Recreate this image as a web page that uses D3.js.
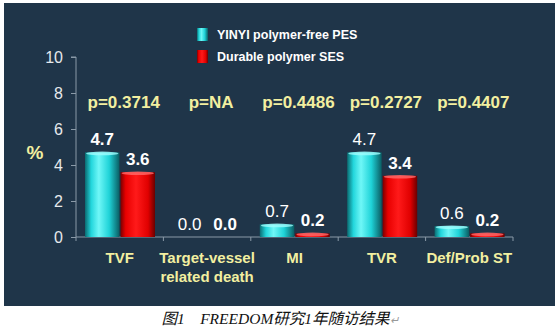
<!DOCTYPE html>
<html>
<head>
<meta charset="utf-8">
<script src="https://cdn.jsdelivr.net/npm/d3@7"></script>
<style>
  body { margin: 0; background: #fff; }
  svg { display: block; }
</style>
</head>
<body>
<svg width="560" height="330"></svg>
<script>
// chart data
var categories = ["TVF", "Target-vessel\nrelated death", "MI", "TVR", "Def/Prob ST"];
var seriesNames = ["YINYI polymer-free PES", "Durable polymer SES"];
var yinyiValues = [4.7, 0.0, 0.7, 4.7, 0.6];
var durableValues = [3.6, 0.0, 0.2, 3.4, 0.2];
var pValues = ["p=0.3714", "p=NA", "p=0.4486", "p=0.2727", "p=0.4407"];
var yinyiBold = [true, false, false, false, false];
var yTicks = [0, 2, 4, 6, 8, 10];

var svg = d3.select("svg");
var yellow = "#f2efa0";

svg.append("rect")
    .attr("x", 4).attr("y", 3)
    .attr("width", 551).attr("height", 303)
    .attr("fill", "#1f3549");

var defs = svg.append("defs");
function barGradient(id, stops) {
    var g = defs.append("linearGradient").attr("id", id)
        .attr("x1", "0%").attr("x2", "100%").attr("y1", "0%").attr("y2", "0%");
    stops.forEach(function(s) {
        g.append("stop").attr("offset", s[0]).attr("stop-color", s[1]);
    });
}
barGradient("gCyan", [["0%", "#0b6c72"], ["18%", "#22d6dc"], ["40%", "#6ff7f7"], ["70%", "#1fd3d8"], ["100%", "#0a5d63"]]);
barGradient("gRed", [["0%", "#7a0000"], ["15%", "#e80000"], ["45%", "#ff1a1a"], ["80%", "#e00000"], ["100%", "#6a0000"]]);

var x = d3.scaleBand().domain(d3.range(categories.length)).range([76, 513]);
var sub = d3.scaleBand().domain([0, 1]).range([9, 79]).paddingInner(0.03);
var y = d3.scaleLinear().domain([0, 10]).range([237, 57]);

// y axis
var yAxis = d3.axisLeft(y).tickValues(yTicks).tickSize(5).tickPadding(8);
var ya = svg.append("g").attr("transform", "translate(76,0)").call(yAxis);
ya.select(".domain").attr("stroke", "#8a9aa8").attr("d", "M-5,57H0V237");
ya.selectAll(".tick line").attr("stroke", "#8a9aa8");
ya.selectAll(".tick text").attr("fill", "#e6e9ec")
    .style("font-family", "Liberation Sans, Arial, sans-serif").style("font-size", "16px");

// x axis
var xa = svg.append("g").attr("transform", "translate(0,237)");
xa.append("line").attr("x1", 76).attr("x2", 513).attr("stroke", "#8a9aa8");
xa.selectAll("line.t").data(d3.range(categories.length + 1)).enter()
    .append("line").attr("class", "t")
    .attr("x1", function(d) { return 76 + d * x.bandwidth(); })
    .attr("x2", function(d) { return 76 + d * x.bandwidth(); })
    .attr("y1", 0).attr("y2", 4).attr("stroke", "#8a9aa8");

var series = [yinyiValues, durableValues];
var fills = ["url(#gCyan)", "url(#gRed)"];
var caps = ["#9ffcfc", "#ff6a6a"];

series.forEach(function(vals, s) {
    var g = svg.append("g");
    vals.forEach(function(v, i) {
        var bx = x(i) + sub(s);
        var bw = sub.bandwidth();
        if (v > 0) {
            g.append("rect")
                .attr("x", bx).attr("y", y(v))
                .attr("width", bw).attr("height", y(0) - y(v))
                .attr("fill", fills[s]);
            g.append("ellipse")
                .attr("cx", bx + bw / 2).attr("cy", y(v) + 1)
                .attr("rx", bw / 2 - 1).attr("ry", 1.8)
                .attr("fill", caps[s]).attr("opacity", 0.8);
        }
        var bold = s === 1 || yinyiBold[i];
        g.append("text")
            .attr("x", bx + bw / 2)
            .attr("y", y(v) - 7)
            .attr("text-anchor", "middle")
            .attr("fill", "#ffffff")
            .style("font-family", "Liberation Sans, Arial, sans-serif")
            .style("font-size", "17px")
            .style("font-weight", bold ? "bold" : "normal")
            .text(v.toFixed(1));
    });
});

// p values
svg.selectAll("text.p").data(pValues).enter()
    .append("text").attr("class", "p")
    .attr("x", function(d, i) { return x(i) + x.bandwidth() / 2 + 4; })
    .attr("y", 108)
    .attr("text-anchor", "middle")
    .attr("fill", yellow)
    .style("font-family", "Liberation Sans, Arial, sans-serif")
    .style("font-size", "17px").style("font-weight", "bold")
    .text(function(d) { return d; });

// category labels
svg.selectAll("text.cat").data(categories).enter()
    .append("text").attr("class", "cat")
    .attr("x", function(d, i) { return x(i) + x.bandwidth() / 2; })
    .attr("y", 263)
    .attr("text-anchor", "middle")
    .attr("fill", yellow)
    .style("font-family", "Liberation Sans, Arial, sans-serif")
    .style("font-size", "15px").style("font-weight", "bold")
    .each(function(d) {
        var t = d3.select(this);
        d.split("\n").forEach(function(line, k) {
            t.append("tspan").attr("x", t.attr("x")).attr("dy", k ? 19 : 0).text(line);
        });
    });

// y title
svg.append("text")
    .attr("x", 35).attr("y", 159)
    .attr("text-anchor", "middle")
    .attr("fill", yellow)
    .style("font-family", "Liberation Sans, Arial, sans-serif")
    .style("font-size", "19px").style("font-weight", "bold")
    .text("%");

// legend
var legend = svg.append("g");
seriesNames.forEach(function(name, i) {
    var ly = 34 + i * 22;
    legend.append("rect")
        .attr("x", 197).attr("y", ly - 6)
        .attr("width", 11).attr("height", 13)
        .attr("fill", fills[i]);
    legend.append("text")
        .attr("x", 217).attr("y", ly + 5)
        .attr("fill", "#ffffff")
        .style("font-family", "Liberation Sans, Arial, sans-serif")
        .style("font-size", "12.5px").style("font-weight", "bold")
        .text(name);
});

// caption
var cap = svg.append("text")
    .attr("x", 280).attr("y", 324)
    .attr("text-anchor", "middle")
    .style("font-family", "Liberation Serif, 'Noto Sans CJK SC', serif")
    .style("font-size", "15.5px").style("font-style", "italic")
    .attr("fill", "#111");
cap.append("tspan").text("图1　FREEDOM研究1年随访结果");
cap.append("tspan").attr("fill", "#999").style("font-size", "11px").text("↵");
</script>
</body>
</html>
